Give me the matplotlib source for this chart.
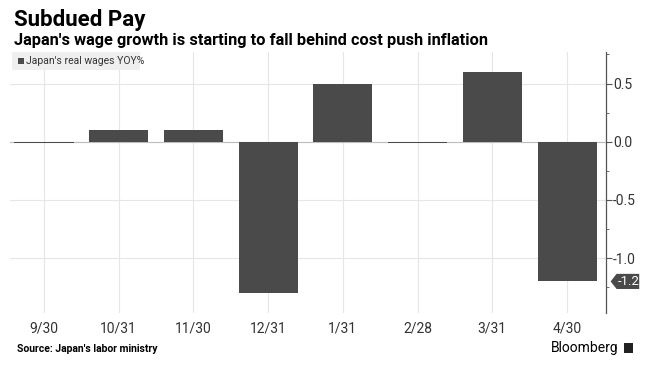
import matplotlib
matplotlib.use("Agg")
import matplotlib.pyplot as plt
from matplotlib.ticker import MultipleLocator, FixedLocator
from matplotlib.patches import Rectangle, Polygon
from matplotlib import font_manager
import matplotlib.transforms as mtransforms

categories = ["9/30", "10/31", "11/30", "12/31", "1/31", "2/28", "3/31", "4/30"]
values = [-0.01, 0.1, 0.1, -1.3, 0.5, -0.01, 0.6, -1.2]
y_ticks = [0.5, 0.0, -0.5, -1.0]
last_label = "-1.2"

names = {f.name for f in font_manager.fontManager.ttflist}
narrow = "Liberation Sans Narrow" if "Liberation Sans Narrow" in names else "Roboto"

bar_color = "#4a4a4a"
grid_color = "#e6e6e6"
text_color = "#333333"

fig = plt.figure(figsize=(6.48, 3.72), dpi=100)
ax = fig.add_axes([0.016, 0.159, 0.919, 0.701])

x = list(range(len(categories)))
ax.bar(x, values, width=0.79, color=bar_color, zorder=3)

ax.set_xlim(-0.45, 7.52)
ax.set_ylim(-1.47, 0.77)

ax.yaxis.tick_right()
ax.yaxis.set_major_locator(FixedLocator(y_ticks))
ax.yaxis.set_minor_locator(MultipleLocator(0.25))
ax.set_yticklabels([f"{v:.1f}" for v in y_ticks])
ax.set_xticks(x)
ax.set_xticklabels(categories)

ax.grid(True, axis="both", color=grid_color, linewidth=0.8, zorder=0)
ax.axhline(0, color="#bdbdbd", linewidth=0.8, zorder=2)

for s in ["top", "left", "bottom"]:
    ax.spines[s].set_visible(False)
ax.spines["right"].set_color("#555555")
ax.spines["right"].set_linewidth(0.9)

ax.tick_params(axis="y", which="major", length=4, width=0.8, color="#555555",
               labelsize=9, labelcolor=text_color, pad=1)
ax.tick_params(axis="y", which="minor", length=2, width=0.6, color="#555555")
ax.tick_params(axis="x", length=0, labelsize=9, labelcolor=text_color, pad=6)
for lab in ax.get_xticklabels() + ax.get_yticklabels():
    lab.set_family(narrow)
    lab.set_fontsize(10)

# last value tag
trans = mtransforms.blended_transform_factory(ax.transAxes, ax.transData)
v = values[-1]
h = 0.065
x0 = 1.0
xs = 0.008
xw = 0.056
tag = Polygon([(x0 + xs, v), (x0 + xs + 0.01, v + h), (x0 + xw, v + h),
               (x0 + xw, v - h), (x0 + xs + 0.01, v - h)],
              closed=True, transform=trans, fc="#4a4a4a", ec="none", clip_on=False, zorder=6)
ax.add_patch(tag)
ax.text(x0 + xs + 0.012 + (xw - xs - 0.012) / 2, v, last_label, transform=trans,
        ha="center", va="center", color="white", fontsize=9.5, family=narrow,
        clip_on=False, zorder=7)

# legend box
fig.patches.append(Rectangle((12/648, 1-70/372), 128/648, 18/372,
                             transform=fig.transFigure, fc="#efefef", ec="none", zorder=5))
fig.patches.append(Rectangle((18/648, 1-64/372), 6/648, 6/372,
                             transform=fig.transFigure, fc=bar_color, ec="none", zorder=6))
fig.text(26/648, 1-61/372, "Japan's real wages YOY%", fontsize=7.5, color=text_color,
         va="center", ha="left", zorder=7, family=narrow)

fig.text(14/648, 1-20/372, "Subdued Pay", fontsize=16, fontweight="bold",
         color="black", va="center", ha="left", family="Roboto")
fig.text(14/648, 1-40/372, "Japan's wage growth is starting to fall behind cost push inflation",
         fontsize=11.8, fontweight="bold", color="black", va="center", ha="left", family="Roboto")

fig.text(17/648, 1-349/372, "Source: Japan's labor ministry", fontsize=7.5,
         fontweight="bold", color="black", va="center", ha="left", family="Roboto")
fig.text(619/648, 1-348/372, "Bloomberg", fontsize=10, color="black",
         va="center", ha="right", family="Roboto")
fig.patches.append(Rectangle((624/648, 1-353/372), 9/648, 10/372,
                             transform=fig.transFigure, fc="#222222", ec="none"))

fig.savefig("out.png", dpi=100)
